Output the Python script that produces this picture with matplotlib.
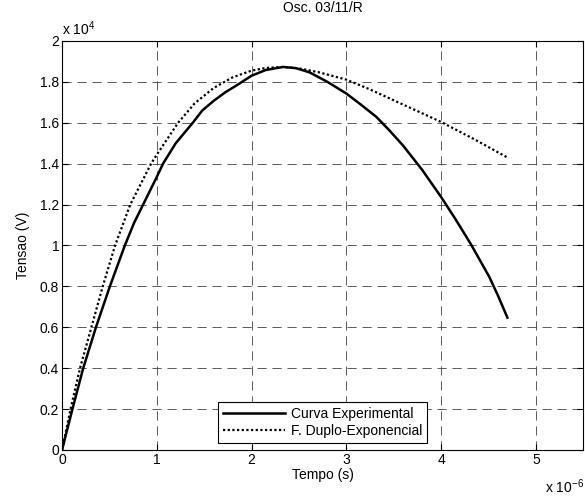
import numpy as np
import matplotlib
matplotlib.use("Agg")
import matplotlib.pyplot as plt

# dados (tempo em us, tensao em 1e4 V)
t_exp = [0, 0.11, 0.224, 0.358, 0.505, 0.663, 0.76, 0.856, 1.0, 1.066, 1.2, 1.38,
         1.48, 1.6, 1.726, 1.85, 2.0, 2.15, 2.333, 2.47, 2.614, 2.8, 3.0, 3.15,
         3.316, 3.45, 3.596, 3.8, 4.0, 4.15, 4.316, 4.509, 4.6, 4.70]
v_exp = [0, 0.2, 0.4, 0.6, 0.8, 1.0, 1.11, 1.2, 1.335, 1.4, 1.50, 1.6,
         1.66, 1.707, 1.75, 1.785, 1.83, 1.858, 1.873, 1.867, 1.846, 1.80, 1.743, 1.69,
         1.629, 1.565, 1.49, 1.37, 1.237, 1.13, 1.005, 0.846, 0.755, 0.647]

t_fit = [0, 0.09, 0.19, 0.31, 0.43, 0.56, 0.72, 0.94, 1.0, 1.225, 1.4, 1.6,
         1.8, 2.0, 2.15, 2.333, 2.5, 2.7, 3.0, 3.25, 3.5, 4.0, 4.368, 4.70]
v_fit = [0, 0.2, 0.4, 0.6, 0.8, 1.0, 1.2, 1.4, 1.444, 1.6, 1.695, 1.77,
         1.822, 1.855, 1.868, 1.873, 1.866, 1.848, 1.811, 1.763, 1.71, 1.604,
         1.515, 1.43]

plt.rcParams['font.family'] = ['Liberation Sans', 'DejaVu Sans']
plt.rcParams['mathtext.fontset'] = 'custom'
plt.rcParams['mathtext.rm'] = 'Liberation Sans'
plt.rcParams['font.size'] = 10

fig = plt.figure(figsize=(5.85, 4.97), dpi=100)
ax = fig.add_axes([0.106, 0.0946, 0.891, 0.823])

ax.plot(np.array(t_exp) * 1e-6, np.array(v_exp) * 1e4, color='black', lw=1.8,
        label='Curva Experimental')
ax.plot(np.array(t_fit) * 1e-6, np.array(v_fit) * 1e4, color='black', lw=1.6,
        linestyle=(0, (1, 1.1)), label='F. Duplo-Exponencial')

ax.set_xlim(0, 5.5e-6)
ax.set_ylim(0, 2e4)
ax.set_xticks(np.arange(0, 6) * 1e-6)
ax.set_xticklabels(['%g' % v for v in np.arange(0, 6)])
ax.set_yticks(np.arange(0, 2.01, 0.2) * 1e4)
ax.set_yticklabels(['%g' % round(v, 1) for v in np.arange(0, 2.01, 0.2)])
ax.tick_params(direction='in', length=4, width=0.8, top=True, right=True,
               labelsize=10, pad=2)
for s in ax.spines.values():
    s.set_linewidth(0.8)

ax.grid(True, color='#404040', linestyle=(0, (11, 7)), lw=0.6)

ax.set_title('Osc. 03/11/R', fontsize=10, pad=21)
ax.set_xlabel('Tempo (s)', fontsize=10, labelpad=1)
ax.set_ylabel('Tensao (V)', fontsize=10, labelpad=7)

ax.text(0.0, 1.008, r'x 10$^{4}$', transform=ax.transAxes, fontsize=10,
        ha='left', va='bottom')
fig.text(0.999, 0.002, r'x 10$^{-6}$', fontsize=10, ha='right', va='bottom')

leg = ax.legend(loc='lower center', bbox_to_anchor=(0.5, 0.017), borderaxespad=0,
                fancybox=False, framealpha=1, edgecolor='black', fontsize=10,
                handlelength=4.5, handletextpad=0.4, borderpad=0.35,
                labelspacing=0.25)
leg.get_frame().set_linewidth(0.8)

fig.savefig('out.png', dpi=100)
